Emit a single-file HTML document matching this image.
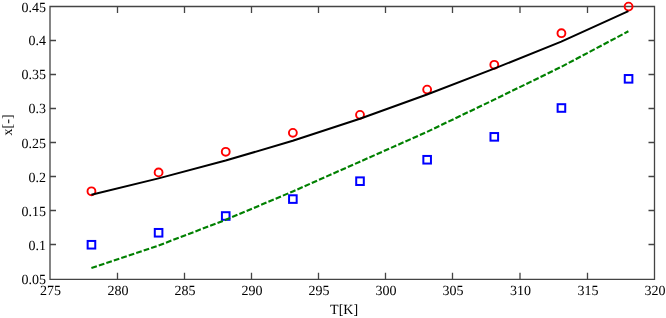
<!DOCTYPE html>
<html><head><meta charset="utf-8"><style>
html,body{margin:0;padding:0;background:#fff;width:666px;height:318px;overflow:hidden}
svg{display:block}
text{font-family:"Liberation Serif",serif;text-rendering:geometricPrecision}
</style></head><body>
<svg width="666" height="318" viewBox="0 0 666 318">
<rect width="666" height="318" fill="#fff"/>
<g stroke="#444444" stroke-width="1.3" fill="none">
<path d="M50.0,6.5 H654.5 V279.3 H50.0 Z"/>
<path d="M117.50,279.3 v-6.5 M117.50,6.5 v6.5"/>
<path d="M184.50,279.3 v-6.5 M184.50,6.5 v6.5"/>
<path d="M251.50,279.3 v-6.5 M251.50,6.5 v6.5"/>
<path d="M318.50,279.3 v-6.5 M318.50,6.5 v6.5"/>
<path d="M385.50,279.3 v-6.5 M385.50,6.5 v6.5"/>
<path d="M452.50,279.3 v-6.5 M452.50,6.5 v6.5"/>
<path d="M520.00,279.3 v-6.5 M520.00,6.5 v6.5"/>
<path d="M587.50,279.3 v-6.5 M587.50,6.5 v6.5"/>
<path d="M50.0,40.50 h6.0 M654.5,40.50 h-6.0"/>
<path d="M50.0,74.50 h6.0 M654.5,74.50 h-6.0"/>
<path d="M50.0,108.50 h6.0 M654.5,108.50 h-6.0"/>
<path d="M50.0,142.50 h6.0 M654.5,142.50 h-6.0"/>
<path d="M50.0,176.50 h6.0 M654.5,176.50 h-6.0"/>
<path d="M50.0,210.50 h6.0 M654.5,210.50 h-6.0"/>
<path d="M50.0,244.50 h6.0 M654.5,244.50 h-6.0"/>
</g>
<g font-family="Liberation Serif, serif" font-size="14" fill="#000" style="filter:grayscale(1)">
<text x="50.40" y="295.2" text-anchor="middle">275</text>
<text x="117.90" y="295.2" text-anchor="middle">280</text>
<text x="184.90" y="295.2" text-anchor="middle">285</text>
<text x="251.90" y="295.2" text-anchor="middle">290</text>
<text x="318.90" y="295.2" text-anchor="middle">295</text>
<text x="385.90" y="295.2" text-anchor="middle">300</text>
<text x="452.90" y="295.2" text-anchor="middle">305</text>
<text x="520.40" y="295.2" text-anchor="middle">310</text>
<text x="587.90" y="295.2" text-anchor="middle">315</text>
<text x="654.90" y="295.2" text-anchor="middle">320</text>
<text x="46" y="11.60" text-anchor="end">0.45</text>
<text x="46" y="45.10" text-anchor="end">0.4</text>
<text x="46" y="79.10" text-anchor="end">0.35</text>
<text x="46" y="113.15" text-anchor="end">0.3</text>
<text x="46" y="147.85" text-anchor="end">0.25</text>
<text x="46" y="181.55" text-anchor="end">0.2</text>
<text x="46" y="215.85" text-anchor="end">0.15</text>
<text x="46" y="249.65" text-anchor="end">0.1</text>
<text x="46" y="283.85" text-anchor="end">0.05</text>
<text x="344.1" y="313.8" text-anchor="middle">T[K]</text>
<text transform="translate(11.8,124.9) rotate(-90)" text-anchor="middle">x[-]</text>
</g>
<g fill="none" stroke="#f00" stroke-width="1.9">
<circle cx="91.45" cy="191.30" r="3.95"/>
<circle cx="158.59" cy="172.40" r="3.95"/>
<circle cx="225.73" cy="151.80" r="3.95"/>
<circle cx="292.87" cy="132.85" r="3.95"/>
<circle cx="360.01" cy="114.85" r="3.95"/>
<circle cx="427.15" cy="89.62" r="3.95"/>
<circle cx="494.29" cy="64.83" r="3.95"/>
<circle cx="561.43" cy="33.19" r="3.95"/>
<circle cx="628.57" cy="6.60" r="3.95"/>
</g>
<g fill="none" stroke="#00f" stroke-width="2">
<rect x="87.65" y="240.95" width="7.6" height="7.6"/>
<rect x="154.79" y="228.97" width="7.6" height="7.6"/>
<rect x="221.93" y="212.20" width="7.6" height="7.6"/>
<rect x="289.07" y="195.28" width="7.6" height="7.6"/>
<rect x="356.21" y="177.39" width="7.6" height="7.6"/>
<rect x="423.35" y="155.95" width="7.6" height="7.6"/>
<rect x="490.49" y="133.05" width="7.6" height="7.6"/>
<rect x="557.63" y="104.20" width="7.6" height="7.6"/>
<rect x="624.77" y="75.03" width="7.6" height="7.6"/>
</g>
<path d="M91.40,194.68 L158.53,178.39 L225.65,160.55 L292.77,140.75 L359.90,118.76 L427.02,94.51 L494.15,68.66 L561.27,41.62 L628.40,11.14" fill="none" stroke="#000" stroke-width="2.0" stroke-linejoin="round"/>
<path d="M91.40,268.04 L158.53,245.53 L225.65,219.85 L292.77,191.46 L359.90,161.70 L427.02,131.90 L494.15,99.65 L561.27,66.87 L628.40,31.29" fill="none" stroke="#008000" stroke-width="2.15" stroke-linejoin="round" stroke-dasharray="5.773 2.106"/>
</svg>
</body></html>
